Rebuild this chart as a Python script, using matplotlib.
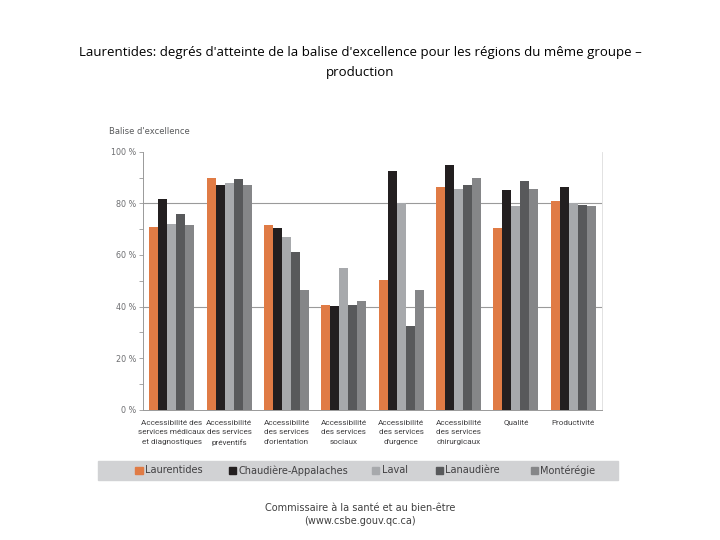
import matplotlib.pyplot as plt
import numpy as np

categories = [
    "Accessibilité des\nservices médicaux\net diagnostiques",
    "Accessibilité\ndes services\npréventifs",
    "Accessibilité\ndes services\nd'orientation",
    "Accessibilité\ndes services\nsociaux",
    "Accessibilité\ndes services\nd'urgence",
    "Accessibilité\ndes services\nchirurgicaux",
    "Qualité",
    "Productivité",
]
regions = ["Laurentides", "Chaudière-Appalaches", "Laval", "Lanaudière", "Montérégie"]
laurentides = [71, 90, 71.5, 40.5, 50.5, 86.5, 70.5, 81]
chaudiere = [81.5, 87, 70.5, 40.3, 92.5, 95, 85, 86.5]
laval = [72, 88, 67, 55, 80, 85.5, 79, 80]
lanaudiere = [76, 89.5, 61, 40.7, 32.5, 87, 88.5, 79.3]
monteregie = [71.5, 87, 46.5, 42, 46.5, 90, 85.5, 79]
colors = ["#e07b45", "#231f20", "#a7a9ac", "#58595b", "#858688"]

series = [laurentides, chaudiere, laval, lanaudiere, monteregie]

fig = plt.figure(figsize=(7.2, 5.4), dpi=100)
ax = fig.add_axes([0.199, 0.241, 0.637, 0.478])

x = np.arange(len(categories))
w = 0.157
for i, (vals, c, lab) in enumerate(zip(series, colors, regions)):
    ax.bar(x + (i - 2) * w, vals, w, color=c, label=lab, zorder=3)

ax.set_xlim(-0.5, len(categories) - 0.5)
ax.set_ylim(0, 100)
ax.set_yticks(range(0, 101, 20))
ax.set_yticklabels([f"{v} %" for v in range(0, 101, 20)], fontsize=5.8, color="#6d6e71")
ax.set_yticks(range(0, 101, 10), minor=True)
ax.tick_params(axis="y", which="both", length=3, color="#999999", width=0.6, pad=2)
ax.set_xticks(x)
ax.set_xticklabels(categories, fontsize=5.9, color="#414042", linespacing=1.75,
                   family="Roboto")
ax.tick_params(axis="x", length=0, pad=7)
for v in [40, 80]:
    ax.axhline(v, color="#9a9a9a", lw=0.8, zorder=1)
ax.spines["top"].set_visible(False)
ax.spines["right"].set_color("#dddddd")
ax.spines["right"].set_linewidth(0.6)
for s in ["left", "bottom"]:
    ax.spines[s].set_color("#999999")
    ax.spines[s].set_linewidth(0.7)

fig.text(0.152, 0.752, "Balise d'excellence", fontsize=6, color="#58595b")

# bande de légende
band = plt.Rectangle((0.136, 0.111), 0.722, 0.036, transform=fig.transFigure,
                     color="#d1d2d4", zorder=0)
fig.patches.append(band)
leg_x = [0.188, 0.318, 0.517, 0.605, 0.737]
for lx, c, lab in zip(leg_x, colors, regions):
    fig.patches.append(plt.Rectangle((lx, 0.122), 0.010, 0.014, transform=fig.transFigure,
                                     color=c))
    fig.text(lx + 0.013, 0.129, lab, fontsize=7, color="#414042", va="center")

fig.text(0.5, 0.884, "Laurentides: degrés d'atteinte de la balise d'excellence pour les régions du même groupe –\nproduction",
         ha="center", va="center", fontsize=9.5, family="Open Sans", linespacing=1.75)
fig.text(0.5, 0.047, "Commissaire à la santé et au bien-être\n(www.csbe.gouv.qc.ca)",
         ha="center", va="center", fontsize=7, color="#404040", linespacing=1.3)

fig.savefig("out.png", dpi=100)
